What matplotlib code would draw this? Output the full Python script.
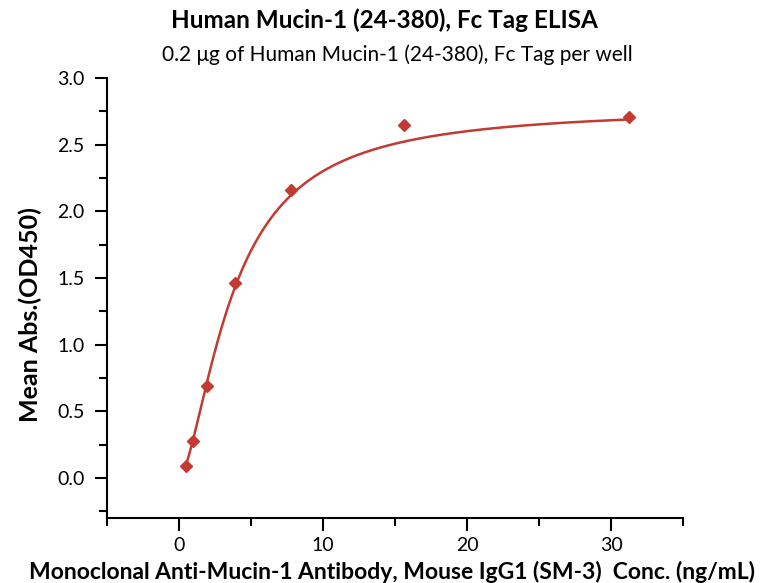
import numpy as np
import matplotlib
matplotlib.use("Agg")
import matplotlib.pyplot as plt
from matplotlib.ticker import MultipleLocator

# data
conc = [0.49, 0.98, 1.95, 3.9, 7.8, 15.6, 31.25]
od450 = [0.09, 0.28, 0.69, 1.46, 2.16, 2.65, 2.71]

# 4PL fit parameters: bottom, slope, EC50, top
fit_bottom = 0.0
fit_slope = 1.6
fit_ec50 = 3.74
fit_top = 2.78

title = "Human Mucin-1 (24-380), Fc Tag ELISA"
subtitle = "0.2 \u03bcg of Human Mucin-1 (24-380), Fc Tag per well"
xlabel = "Monoclonal Anti-Mucin-1 Antibody, Mouse IgG1 (SM-3)  Conc. (ng/mL)"
ylabel = "Mean Abs.(OD450)"
red = "#C23A32"


def four_pl(x):
    return fit_top + (fit_bottom - fit_top) / (1.0 + (x / fit_ec50) ** fit_slope)


xs = np.linspace(min(conc), max(conc), 400)

plt.rcParams["font.family"] = ["Lato", "DejaVu Sans"]
fig = plt.figure(figsize=(7.65, 5.83), dpi=100)
ax = fig.add_axes([0.140, 0.1115, 0.753, 0.7545])

ax.plot(xs, four_pl(xs), color=red, lw=1.8)
ax.plot(conc, od450, ls="none", marker="D", ms=6, color=red)

ax.set_xlim(-5, 35)
ax.set_ylim(-0.3, 3.0)
ax.xaxis.set_minor_locator(MultipleLocator(5))
ax.yaxis.set_minor_locator(MultipleLocator(0.25))
ax.set_yticks(np.arange(0, 3.01, 0.5))
ax.yaxis.set_major_formatter(plt.FormatStrFormatter("%.1f"))
ax.set_xticks([0, 10, 20, 30])

for s in ["top", "right"]:
    ax.spines[s].set_visible(False)
for s in ["left", "bottom"]:
    ax.spines[s].set_linewidth(1.5)
ax.tick_params(which="major", length=9, width=1.5, labelsize=14, direction="out")
ax.tick_params(axis="x", which="major", pad=5)
ax.tick_params(axis="y", which="major", pad=7)
ax.tick_params(which="minor", length=6, width=1.5, direction="out")

fig.text(0.513, 0.019, xlabel, ha="center", va="center", fontsize=16.5, fontweight="bold")
fig.text(0.039, 0.461, ylabel, ha="center", va="center", rotation=90,
         fontsize=18, fontweight="bold")

fig.text(0.502, 0.966, title, ha="center", va="center", fontsize=17.5, fontweight="bold")
fig.text(0.519, 0.906, subtitle, ha="center", va="center", fontsize=15)

fig.savefig("out.png", dpi=100)
